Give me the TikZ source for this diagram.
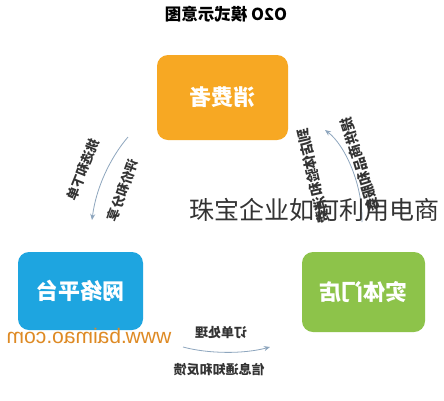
\documentclass[tikz,border=0pt]{standalone}
\usepackage{fontspec}
\setmainfont{Noto Sans CJK SC}
\newfontfamily\wmfont{Liberation Sans}
\usetikzlibrary{arrows.meta}
\definecolor{boxorange}{HTML}{F7A823}
\definecolor{boxblue}{HTML}{1EA5E0}
\definecolor{boxgreen}{HTML}{8DC34A}
\definecolor{arrowc}{HTML}{8EA6BE}
\definecolor{labelc}{HTML}{333333}
\definecolor{wmc}{HTML}{DE8A24}
\tikzset{
  box/.style={rounded corners=11pt, text=white, inner sep=0pt,
    font=\bfseries\fontsize{22}{22}\selectfont},
  flow/.style={draw=arrowc, line width=0.8pt, -{Stealth[length=6pt,width=5pt]}},
  lbl/.style={text=labelc, inner sep=0pt, font=\bfseries\fontsize{13}{13}\selectfont},
  rlbl/.style={text=labelc, inner sep=0pt, font=\bfseries\fontsize{14}{14}\selectfont},
  blbl/.style={text=labelc, inner sep=0pt, font=\bfseries\fontsize{13}{13}\selectfont},
}
\begin{document}
\begin{tikzpicture}[x=1pt,y=-1pt]
\fill[white] (0,0) rectangle (444,400);
\useasboundingbox (0,0) rectangle (444,400);
\begin{scope}[xshift=444pt, xscale=-1, transform shape]
  \node[text=black, font=\bfseries\fontsize{16.5}{16.5}\selectfont] (title) at (218,14) {O2O 模式示意图};
  \node[box, fill=boxorange, minimum width=131pt, minimum height=85pt] (cons) at (221.5,97.5) {消费者};
  \node[box, fill=boxblue, minimum width=125pt, minimum height=78pt] (net) at (363.5,291) {网络平台};
  \node[box, fill=boxgreen, minimum width=123pt, minimum height=80pt] (shop) at (80.5,292) {实体门店};
  \node[text=wmc, inner sep=0pt, font=\wmfont\fontsize{21}{21}\selectfont] (wm) at (355,336) {www.baimao.com};
  % arrows
  \coordinate (a1s) at (316,137);
  \coordinate (a1e) at (352,220);
  \draw[flow] (a1s) .. controls (334,158) and (348,188) .. (a1e);
  \coordinate (a2s) at (82,222);
  \coordinate (a2e) at (119,130);
  \draw[flow] (a2s) .. controls (81,185) and (99,145) .. (a2e);
  \coordinate (a3s) at (261,347);
  \coordinate (a3e) at (174,347);
  \draw[flow] (a3s) .. controls (235,354) and (200,354) .. (a3e);
  % labels
  \node[lbl, rotate=-68] (l1) at (361,170) {挑选和下单};
  \node[lbl, rotate=-70] (l2) at (321,190) {评价和分享};
  \node[rlbl, rotate=-103] (l3) at (131,176) {到店体验和消费};
  \node[rlbl, rotate=-107] (l4) at (84,165) {提供商品和服务};
  \node[blbl] (l5) at (223,333) {订单处理};
  \node[blbl] (l6) at (225,370) {信息通知和反馈};
\end{scope}
\node[text=labelc, inner sep=0pt, font=\fontsize{25}{25}\selectfont] (ov) at (314,210) {珠宝企业如何利用电商};
\end{tikzpicture}
\end{document}
